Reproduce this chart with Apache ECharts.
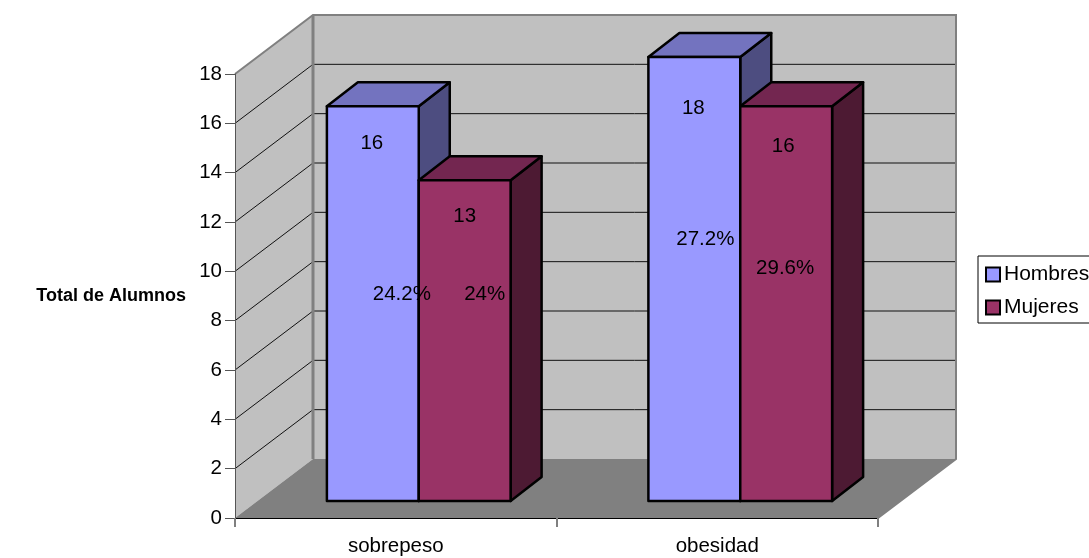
<!DOCTYPE html>
<html>
<head>
<meta charset="utf-8">
<style>html,body{margin:0;padding:0;background:#fff}#chart{width:1089px;height:558px}</style>
<script src="https://cdn.jsdelivr.net/npm/echarts@6/dist/echarts.min.js"></script>
</head>
<body>
<div id="chart"></div>
<script>
// Alumnos por diagnóstico y sexo
const categories = ['sobrepeso', 'obesidad'];
const hombres = [16, 18];
const mujeres = [13, 16];
const hombresPct = ['24.2%', '27.2%'];
const mujeresPct = ['24%', '29.6%'];
const yTicks = [0, 2, 4, 6, 8, 10, 12, 14, 16, 18];

// Oblique projection used for the fake 3D box
const WALL_DX = 78, WALL_DY = -59;
const BAR_DX = 31, BAR_DY = -24;
const FRONT_DX = 23, FRONT_DY = -17;
const FONT = '"Liberation Sans", Arial, sans-serif';
const FS = 20.5;

// Hand-placed label offsets from the bar's front-top centre: [category][dx, dy]
const countOffset = { Hombres: [[-1, 37], [-1, 51]], Mujeres: [[0, 36], [-3, 40]] };
const pctOffset = { Hombres: [[29, 188], [11, 182]], Mujeres: [[20, 114], [-1, 162]] };

const shades = {
  Hombres: { front: '#9999FF', top: '#7373BF', side: '#4D4D80' },
  Mujeres: { front: '#993366', top: '#732650', side: '#4D1A33' }
};

function poly(points, fill, stroke, lineWidth) {
  return { type: 'polygon', shape: { points }, style: { fill, stroke: stroke || 'none', lineWidth: lineWidth || 0, lineJoin: 'round' } };
}

function renderWalls(params, api) {
  const size = api.size([1, 0])[0];
  const origin = api.coord([0, 0]);
  const x0 = origin[0] - size / 2;
  const x1 = x0 + size * categories.length;
  const y0 = origin[1];
  const yTop = api.coord([0, yTicks[yTicks.length - 1]])[1];
  const bx0 = x0 + WALL_DX, bx1 = x1 + WALL_DX;
  const shift = WALL_DY;
  const children = [
    poly([[x0, y0], [x0, yTop], [bx0, yTop + shift], [bx0, y0 + shift]], '#C0C0C0'),
    poly([[bx0, yTop + shift], [bx1, yTop + shift], [bx1, y0 + shift], [bx0, y0 + shift]], '#C0C0C0'),
    poly([[x0, y0], [bx0, y0 + shift], [bx1, y0 + shift], [x1, y0]], '#808080')
  ];
  yTicks.slice(1, -1).forEach(function (v) {
    const y = api.coord([0, v])[1];
    children.push({ type: 'polyline', shape: { points: [[x0, y], [bx0, y + shift], [bx1, y + shift]] }, style: { fill: 'none', stroke: '#111', lineWidth: 1 } });
  });
  children.push({ type: 'polyline', shape: { points: [[x0, yTop], [bx0, yTop + shift], [bx1, yTop + shift], [bx1, y0 + shift], [x1, y0]] }, style: { fill: 'none', stroke: '#808080', lineWidth: 2 } });
  children.push({ type: 'line', shape: { x1: bx0, y1: yTop + shift, x2: bx0, y2: y0 + shift }, style: { stroke: '#808080', lineWidth: 3 } });
  return { type: 'group', children };
}

// Front-face rectangle of a bar in pixels
function frontFace(api, cat, val, slot) {
  const bw = api.size([1, 0])[0] / 3.5;
  const base = api.coord([cat, 0]);
  const l = base[0] - bw + slot * bw + FRONT_DX;
  return { l, r: l + bw, b: base[1] + FRONT_DY, t: api.coord([cat, val])[1] + FRONT_DY };
}

function makeBarRenderer(name, slot) {
  return function (params, api) {
    const f = frontFace(api, api.value(0), api.value(1), slot);
    const c = shades[name];
    const black = '#000';
    return {
      type: 'group',
      children: [
        poly([[f.r, f.b], [f.r, f.t], [f.r + BAR_DX, f.t + BAR_DY], [f.r + BAR_DX, f.b + BAR_DY]], c.side, black, 2.5),
        poly([[f.l, f.t], [f.r, f.t], [f.r + BAR_DX, f.t + BAR_DY], [f.l + BAR_DX, f.t + BAR_DY]], c.top, black, 2.5),
        poly([[f.l, f.b], [f.l, f.t], [f.r, f.t], [f.r, f.b]], c.front, black, 2.5)
      ]
    };
  };
}

// Value and percentage captions sit above every bar, so they get their own series
function makeLabelRenderer(name, slot, pct) {
  return function (params, api) {
    const cat = api.value(0);
    const val = api.value(1);
    const f = frontFace(api, cat, val, slot);
    const cx = (f.l + f.r) / 2;
    const label = function (text, off) {
      return { type: 'text', style: { text, x: cx + off[0], y: f.t + off[1], textAlign: 'center', textVerticalAlign: 'middle', fontFamily: FONT, fontSize: FS, fill: '#000' } };
    };
    return { type: 'group', children: [label(String(val), countOffset[name][cat]), label(pct[cat], pctOffset[name][cat])] };
  };
}

function barData(values) {
  return values.map(function (v, i) { return [i, v]; });
}

const chart = echarts.init(document.getElementById('chart'), null, { renderer: 'canvas' });
chart.setOption({
  animation: false,
  backgroundColor: '#fff',
  grid: { left: 235, right: 211, top: 74, bottom: 40, containLabel: false },
  xAxis: {
    type: 'category',
    data: categories,
    boundaryGap: true,
    axisLine: { show: true, lineStyle: { color: '#000', width: 1 } },
    axisTick: { show: true, length: 9, lineStyle: { color: '#808080', width: 2 } },
    axisLabel: { color: '#000', fontFamily: FONT, fontSize: FS, margin: 18 },
    splitLine: { show: false },
    z: 5
  },
  yAxis: {
    type: 'value',
    min: 0,
    max: 18,
    interval: 2,
    name: 'Total de Alumnos',
    nameLocation: 'middle',
    nameRotate: 0,
    nameGap: 49,
    nameTextStyle: { color: '#000', fontFamily: FONT, fontSize: 18, fontWeight: 'bold', align: 'right', verticalAlign: 'middle', padding: [2, 0, 0, 0] },
    axisLine: { show: true, lineStyle: { color: '#555', width: 1 } },
    axisTick: { show: true, length: 10, lineStyle: { color: '#555', width: 1 } },
    axisLabel: { color: '#000', fontFamily: FONT, fontSize: FS, margin: 13, padding: [4, 0, 0, 0] },
    splitLine: { show: false },
    z: 5
  },
  legend: {
    orient: 'vertical',
    left: 978,
    top: 256,
    data: ['Hombres', 'Mujeres'],
    backgroundColor: '#fff',
    borderColor: '#000',
    borderWidth: 1,
    borderRadius: 0,
    padding: [8, 12, 5, 7],
    itemWidth: 14,
    itemHeight: 14,
    itemGap: 12,
    textStyle: { color: '#000', fontFamily: FONT, fontSize: 21, padding: [0, 0, 0, -1] },
    icon: 'rect',
    itemStyle: { borderColor: '#000', borderWidth: 2 }
  },
  series: [
    { type: 'custom', name: 'walls', coordinateSystem: 'cartesian2d', renderItem: renderWalls, data: [[0, 0]], encode: { x: 0, y: 1 }, z: 1, silent: true },
    { type: 'custom', name: 'Hombres', coordinateSystem: 'cartesian2d', renderItem: makeBarRenderer('Hombres', 0), data: barData(hombres), encode: { x: 0, y: 1 }, itemStyle: { color: shades.Hombres.front }, z: 10 },
    { type: 'custom', name: 'Mujeres', coordinateSystem: 'cartesian2d', renderItem: makeBarRenderer('Mujeres', 1), data: barData(mujeres), encode: { x: 0, y: 1 }, itemStyle: { color: shades.Mujeres.front }, z: 11 },
    { type: 'custom', name: 'etiquetas Hombres', coordinateSystem: 'cartesian2d', renderItem: makeLabelRenderer('Hombres', 0, hombresPct), data: barData(hombres), encode: { x: 0, y: 1 }, z: 20, silent: true },
    { type: 'custom', name: 'etiquetas Mujeres', coordinateSystem: 'cartesian2d', renderItem: makeLabelRenderer('Mujeres', 1, mujeresPct), data: barData(mujeres), encode: { x: 0, y: 1 }, z: 20, silent: true }
  ]
});
</script>
</body>
</html>
